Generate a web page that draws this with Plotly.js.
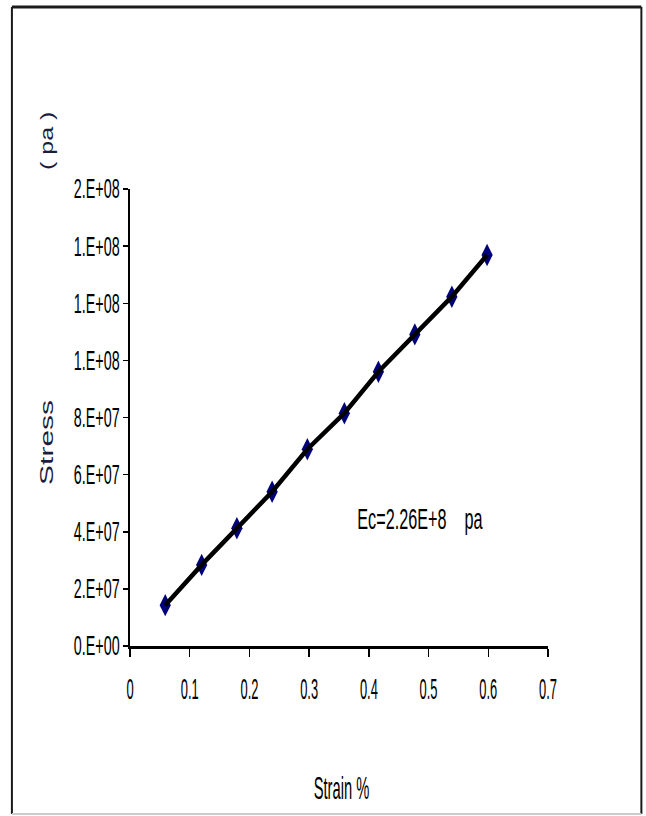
<!DOCTYPE html>
<html>
<head>
<meta charset="utf-8">
<script src="https://cdn.plot.ly/plotly-3.0.1.min.js"></script>
<style>
  html, body { margin: 0; padding: 0; background: #ffffff; }
  #chart { width: 646px; height: 816px; }
</style>
</head>
<body>
<div id="chart"></div>
<script>
// Data
const strain = [0.059, 0.120, 0.179, 0.238, 0.297, 0.359, 0.416, 0.477, 0.539, 0.598];
const stress = [1.43e7, 2.84e7, 4.12e7, 5.40e7, 6.89e7, 8.15e7, 9.60e7, 1.091e8, 1.223e8, 1.369e8];

const yTickVals = [0, 2e7, 4e7, 6e7, 8e7, 1e8, 1.2e8, 1.4e8, 1.6e8];
const yTickText = ["0.E+00", "2.E+07", "4.E+07", "6.E+07", "8.E+07", "1.E+08", "1.E+08", "1.E+08", "2.E+08"];
const xTickVals = [0, 0.1, 0.2, 0.3, 0.4, 0.5, 0.6, 0.7];
const xTickText = ["0", "0.1", "0.2", "0.3", "0.4", "0.5", "0.6", "0.7"];

const sans = "Liberation Sans, Arial, sans-serif";

const traces = [
  {
    x: strain, y: stress, type: "scatter", mode: "markers",
    marker: { symbol: "diamond-tall", size: 16, color: "#00007a", line: { width: 0 } },
    showlegend: false, hoverinfo: "skip"
  },
  {
    x: strain, y: stress, type: "scatter", mode: "lines",
    line: { color: "#000000", width: 4.5 },
    showlegend: false, hoverinfo: "skip"
  }
];

const layout = {
  width: 646, height: 816,
  margin: { l: 130, r: 98, t: 189, b: 170 },
  paper_bgcolor: "#ffffff",
  plot_bgcolor: "#ffffff",
  showlegend: false,
  xaxis: {
    range: [0, 0.7],
    tickvals: xTickVals, ticktext: xTickText,
    showgrid: false, zeroline: false,
    showline: true, linecolor: "#000000", linewidth: 3,
    ticks: "outside", ticklen: 8, tickwidth: 1.5, tickcolor: "#000000",
    ticklabelstandoff: 6,
    tickfont: { family: sans, size: 30, color: "#000000" },
    fixedrange: true
  },
  yaxis: {
    range: [0, 1.6e8],
    tickvals: yTickVals, ticktext: yTickText,
    showgrid: false, zeroline: false,
    showline: true, linecolor: "#000000", linewidth: 2,
    ticks: "outside", ticklen: 5, tickwidth: 1.5, tickcolor: "#000000",
    tickfont: { family: sans, size: 27, color: "#000000" },
    fixedrange: true
  },
  annotations: [
    { text: "Stress", xref: "paper", yref: "paper", x: -0.1987, y: 0.4464,
      xanchor: "center", yanchor: "middle", textangle: -90, showarrow: false,
      font: { family: sans, size: 30, color: "#1c1c3c" } },
    { text: "( pa )", xref: "paper", yref: "paper", x: -0.1987, y: 1.105,
      xanchor: "center", yanchor: "middle", textangle: -90, showarrow: false,
      font: { family: sans, size: 25, color: "#1c1c3c" } },
    { text: "Ec=2.26E+8&nbsp;&nbsp;&nbsp;&nbsp;pa", xref: "paper", yref: "paper", x: 0.693, y: 0.278,
      xanchor: "center", yanchor: "middle", showarrow: false,
      font: { family: sans, size: 30, color: "#000000" } },
    { text: "Strain %", xref: "paper", yref: "paper", x: 0.5068, y: -0.3107,
      xanchor: "center", yanchor: "middle", showarrow: false,
      font: { family: sans, size: 32, color: "#000000" } }
  ],
  shapes: [
    { type: "line", xref: "paper", yref: "paper", x0: -0.2825, x1: 1.2234, y0: 1.3983, y1: 1.3983,
      line: { color: "#1a1a1a", width: 3 } },
    { type: "line", xref: "paper", yref: "paper", x0: -0.2825, x1: -0.2825, y0: 1.3983, y1: -0.3676,
      line: { color: "#1a1a1a", width: 2 } },
    { type: "line", xref: "paper", yref: "paper", x0: 1.2234, x1: 1.2234, y0: 1.3983, y1: -0.3676,
      line: { color: "#1a1a1a", width: 2 } },
    { type: "line", xref: "paper", yref: "paper", x0: -0.2825, x1: 1.2234, y0: -0.3676, y1: -0.3676,
      line: { color: "#cccccc", width: 2 } }
  ]
};

// The reference image is horizontally compressed: condense text glyphs to match
function condense(el, factor) {
  const w = el.getComputedTextLength();
  if (w > 0) {
    el.setAttribute("textLength", (w * factor).toFixed(2));
    el.setAttribute("lengthAdjust", "spacingAndGlyphs");
  }
}
function condensePerp(el, factor) {
  const b = el.getBBox();
  const cx = b.x + b.width / 2, cy = b.y + b.height / 2;
  const prev = el.getAttribute("transform") || "";
  el.setAttribute("transform", prev + " translate(" + cx + "," + cy + ") scale(1," + factor + ") translate(" + (-cx) + "," + (-cy) + ")");
}
function shiftX(el, dx) {
  const prev = el.getAttribute("transform") || "";
  el.setAttribute("transform", "translate(" + dx + ",0) " + prev);
}

Plotly.newPlot("chart", traces, layout, { staticPlot: true, displayModeBar: false }).then(function (gd) {
  gd.querySelectorAll(".xtick text").forEach(function (t) { condense(t, 0.43); });
  gd.querySelectorAll(".ytick text").forEach(function (t) { condense(t, 0.53); shiftX(t, 2); });
  const ann = gd.querySelectorAll(".annotation-text");
  condensePerp(ann[0], 0.62);
  condensePerp(ann[1], 0.72);
  condense(ann[2], 0.54);
  condense(ann[3], 0.46);
});
</script>
</body>
</html>
